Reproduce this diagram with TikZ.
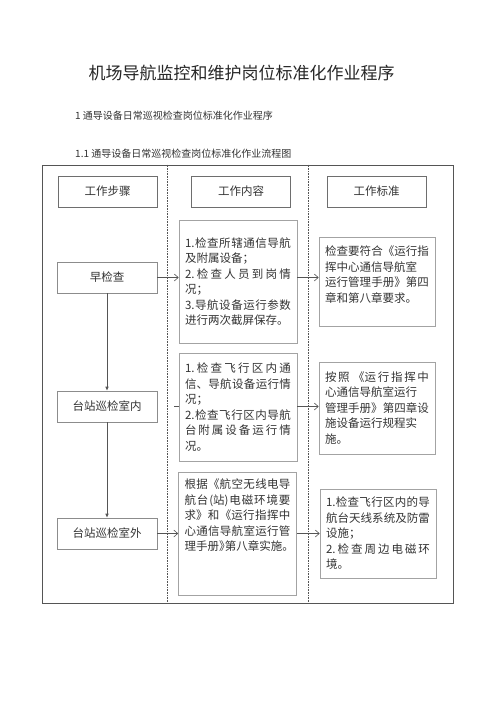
\documentclass[tikz,border=0pt]{standalone}
\usepackage{fontspec}
\setmainfont{Noto Sans CJK SC}
\usepackage{tikz}
\usetikzlibrary{arrows.meta,positioning}
\XeTeXlinebreaklocale "zh"
\XeTeXlinebreakskip=0pt plus 3pt

\definecolor{framegray}{HTML}{555555}
\definecolor{boxgray}{HTML}{8C8C8C}
\definecolor{textgray}{HTML}{333333}

\begin{document}
\begin{tikzpicture}[
    x=1pt, y=-1pt,
    font=\fontsize{11.5}{15.5}\selectfont,
    every node/.style={text=textgray},
    head/.style={draw=framegray!85, line width=0.6pt, minimum width=99pt, minimum height=31pt, inner sep=0pt},
    stepbox/.style={draw=boxgray, line width=0.6pt, minimum width=100pt, minimum height=31pt, inner sep=0pt},
    workbox/.style={draw=boxgray!80, line width=0.6pt, text width=106pt, inner xsep=6pt, inner ysep=0pt, align=justify},
    normbox/.style={workbox, text width=104pt},
    flow/.style={-{Straight Barb[length=4pt,width=7pt]}, framegray, line width=0.6pt},
    down/.style={-{Latex[length=4pt,width=3.5pt]}, framegray, line width=0.6pt},
    divider/.style={densely dotted, framegray, line width=0.6pt}
]
\useasboundingbox (0,0) rectangle (496,702);

% titles
\node[font=\fontsize{17}{20}\selectfont, text=black!85] (title) at (241.5,73) {机场导航监控和维护岗位标准化作业程序};
\node[font=\fontsize{10}{12}\selectfont, anchor=west, inner sep=0pt] (sec) at (75,116) {1 通导设备日常巡视检查岗位标准化作业程序};
\node[font=\fontsize{10}{12}\selectfont, anchor=west, inner sep=0pt] (subsec) at (75,154) {1.1 通导设备日常巡视检查岗位标准化作业流程图};

% frame and columns
\node[draw=framegray, line width=0.8pt, minimum width=411pt, minimum height=438pt, inner sep=0pt] (frame) at (247.5,384) {};
\coordinate (cut1) at (167,0);
\coordinate (cut2) at (308,0);
\draw[divider] (frame.north -| cut1) -- (frame.south -| cut1);
\draw[divider] (frame.north -| cut2) -- (frame.south -| cut2);

\node[head] (h1) at (107.5,191.5) {工作步骤};
\node[head, right=34pt of h1] (h2) {工作内容};
\node[head, right=36pt of h2] (h3) {工作标准};

% steps
\node[stepbox] (s1) at (107,277.5) {早检查};
\node[stepbox] (s2) at (107,406.5) {台站巡检室内};
\node[stepbox] (s3) at (107,533.5) {台站巡检室外};

% contents
\node[workbox, minimum height=123pt] (c1) at (238,281.5)
  {1.检查所辖通信导航\linebreak 及附属设备；\\ 2.检查人员到岗情\linebreak 况；\\ 3.导航设备运行参数\linebreak 进行两次截屏保存。};
\node[workbox, minimum height=108pt] (c2) at (238,407)
  {1.检查飞行区内通\linebreak 信、导航设备运行情\linebreak 况；\\ 2.检查飞行区内导航\linebreak 台附属设备运行情\linebreak 况。};
\node[workbox, minimum height=123pt] (c3) at (237.5,533.5)
  {根据《航空无线电导\linebreak 航台(站)电磁环境要\linebreak 求》和《运行指挥中\linebreak 心通信导航室运行管\linebreak \mbox{理手册》\kern-0.5em第八章实施。}\par\vspace*{36pt}};

% standards
\node[normbox, minimum height=89pt] (d1) at (377,281.5)
  {检查要符合《运行指\linebreak 挥中心通信导航室\\ 运行管理手册》第四\linebreak 章和第八章要求。\par\vspace*{14pt}};
\node[normbox, minimum height=92pt] (d2) at (377,408)
  {按照 《运行指挥中\linebreak 心通信导航室运行\\ 管理手册》第四章设\linebreak 施设备运行规程实\\ 施。};
\node[normbox, minimum height=89pt] (d3) at (378,533.5)
  {1.检查飞行区内的导\linebreak 航台天线系统及防雷\linebreak 设施；\\ 2.检查周边电磁环\linebreak 境。};

% connectors
\draw[down] (s1) -- (s2);
\draw[down] (s2) -- (s3);
\draw[flow] (s1) -- (s1 -| c1.west);
\draw[flow] (c1.east |- s1) -- (d1.west |- s1);
\coordinate (stub) at (174,0);
\draw[framegray, line width=0.6pt] (stub |- s2) -- (s2 -| c2.west);
\draw[flow] (c2.east |- s2) -- (d2.west |- s2);
\draw[flow] (s3) -- (s3 -| c3.west);
\draw[flow] (c3.east |- s3) -- (d3.west |- s3);
\end{tikzpicture}
\end{document}
